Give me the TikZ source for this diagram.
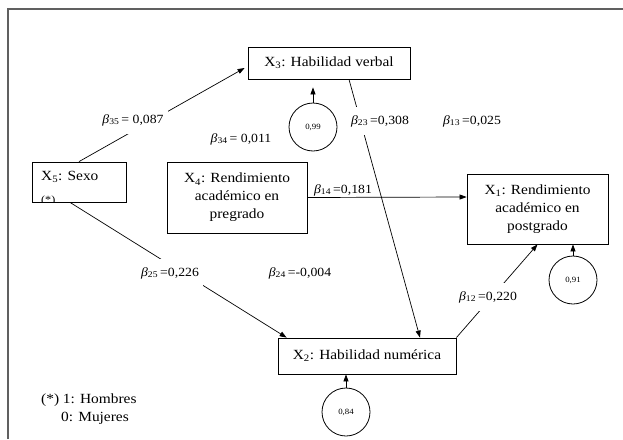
\documentclass[tikz,border=0pt]{standalone}
\usepackage{fontspec}
\setmainfont{Liberation Serif}[FakeStretch=1.1]
\usetikzlibrary{arrows.meta,calc}
\newcommand{\bt}[2]{\textit{β}\textsubscript{#1}\,#2}

\begin{document}
\begin{tikzpicture}[x=1pt, y=-1pt,
  every node/.style={font=\fontsize{14}{18}\selectfont},
  var/.style={draw, line width=0.8pt, align=center, inner sep=0pt},
  err/.style={draw, circle, line width=0.8pt, minimum size=48pt, inner sep=0pt, font=\fontsize{8}{9}\selectfont},
  edge/.style={-{Triangle[length=7pt, width=5pt]}, line width=0.7pt},
  coef/.style={font=\fontsize{12.5}{14}\selectfont, inner sep=1pt},
  gap/.style={coef, fill=white, inner xsep=4pt, inner ysep=8pt}]
  \useasboundingbox (0,0) rectangle (623,439);
  \draw[gray!75!black, line width=1.5pt] (8,439) -- (8,9) -- (623,9);
  % variables
  \node[var, minimum width=162pt, minimum height=32pt] (x3) at (329,63) {X\textsubscript{3}: Habilidad verbal};
  \node[var, minimum width=94pt, minimum height=40pt] (x5) at (79,182) {};
  \node[var, minimum width=140pt, minimum height=71pt] (x4) at (237,197.5) {X\textsubscript{4}: Rendimiento\\académico en\\pregrado};
  \node[var, minimum width=141pt, minimum height=70pt] (x1) at (537.5,209) {X\textsubscript{1}: Rendimiento\\académico en\\postgrado};
  \node[var, minimum width=178pt, minimum height=36pt] (x2) at (367,356) {X\textsubscript{2}: Habilidad numérica};
  \node[anchor=west, inner sep=0pt] (sexo) at (41,177) {X\textsubscript{5}: Sexo};
  \begin{scope}
    \clip (x5.south west) rectangle (x5.north east);
    \node[anchor=west, inner sep=0pt, font=\fontsize{11}{12}\selectfont] (ast) at (41,200.5) {(*)};
  \end{scope}
  % residuals
  \node[err] (e3) at (313,127) {0,99};
  \node[err] (e1) at (573,280) {0,91};
  \node[err] (e2) at (346,412) {0,84};
  % paths
  \draw[edge] (x5.north) -- ($(x3.west)+(-3,5)$);
  \draw[edge] ($(x3.south)+(20,0)$) -- ($(x2.north)+(53,0)$);
  \draw[edge] (x4.east) -- ($(x1.west)+(0,-12)$);
  \draw[edge] ($(x5.south)+(-9,0)$) -- ($(x2.north west)+(9,0)$);
  \draw[edge] (x2.north east) -- (x1.south);
  \draw[edge, shorten >=8pt] (e3) -- (e3 |- x3.south);
  \draw[edge] (e1) -- (e1 |- x1.south);
  \draw[edge] (e2) -- (e2 |- x2.south);
  % coefficients
  \node[gap] (b35) at (133,120) {\bt{35}{= 0,087}};
  \node[coef] (b34) at (241,139) {\bt{34}{= 0,011}};
  \node[gap] (b23) at (380,121) {\bt{23}{=0,308}};
  \node[coef] (b13) at (472,121) {\bt{13}{=0,025}};
  \node[coef] (b14) at (343,190) {\bt{14}{=0,181}};
  \node[gap] (b25) at (170,273) {\bt{25}{=0,226}};
  \node[coef] (b24) at (300,273) {\bt{24}{=-0,004}};
  \node[gap] (b12) at (488,297) {\bt{12}{=0,220}};
  % note
  \node[anchor=west, inner sep=0pt] (nota1) at (41,400) {(*) 1: Hombres};
  \node[anchor=west, inner sep=0pt] (nota0) at (61,418) {0: Mujeres};
\end{tikzpicture}
\end{document}
